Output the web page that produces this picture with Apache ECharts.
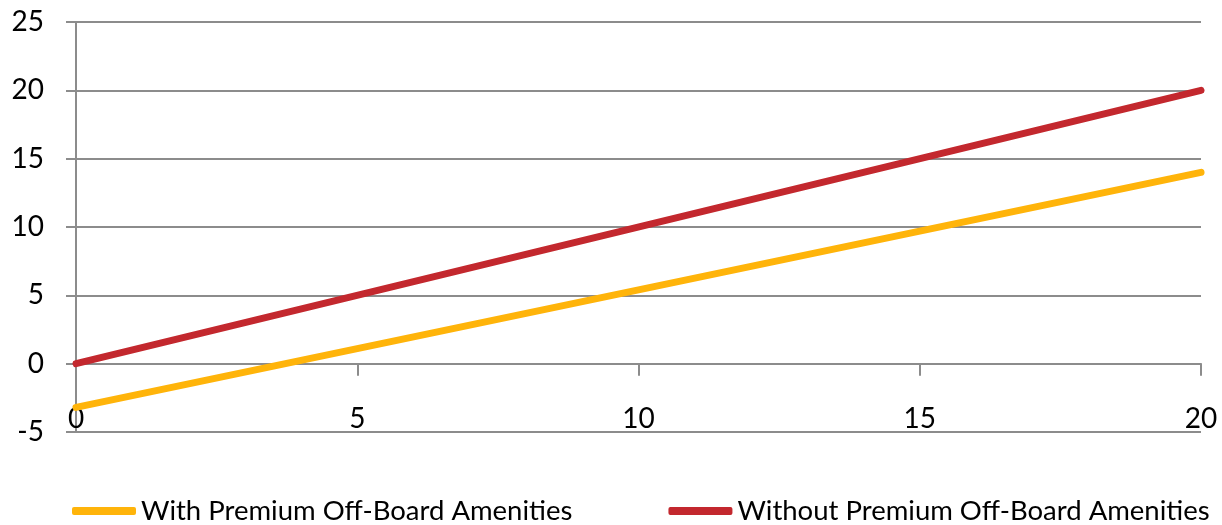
<!DOCTYPE html>
<html>
<head>
<meta charset="utf-8">
<script src="https://cdn.jsdelivr.net/npm/echarts@6/dist/echarts.min.js"></script>
<style>
  html, body { margin: 0; padding: 0; background: #fff; }
  #chart { width: 1222px; height: 525px; }
</style>
</head>
<body>
<div id="chart"></div>
<script>
/*数据*/
const xValues = [0, 20];
const withAmenities = [-3.2, 14];
const withoutAmenities = [0, 20];
const seriesNames = ['With Premium Off-Board Amenities', 'Without Premium Off-Board Amenities'];

const gridColor = '#8c8c8c';
const fontFamily = 'Lato, "Open Sans", sans-serif';

let myChart = echarts.init(document.getElementById('chart'));

/*点对*/
let pairs = (ys) => xValues.map((x, i) => [x, ys[i]]);

let option = {
    animation: false,
    textStyle: { fontFamily: fontFamily },
    grid: {
        left: 76,
        right: 21,
        top: 22,
        bottom: 93
    },
    legend: {
        data: seriesNames,
        top: 497,
        left: 72,
        width: 1200,
        padding: 0,
        icon: 'roundRect',
        itemWidth: 64,
        itemHeight: 8,
        itemGap: 96,
        textStyle: { fontSize: 27.5, color: '#000', fontFamily: fontFamily }
    },
    xAxis: {
        type: 'value',
        min: 0,
        max: 20,
        interval: 5,
        axisLine: { onZero: true, lineStyle: { color: gridColor, width: 2 } },
        axisTick: { show: true, length: 12, lineStyle: { color: gridColor, width: 2 } },
        axisLabel: { margin: -27, fontSize: 28, color: '#000' },
        splitLine: { show: false }
    },
    yAxis: {
        type: 'value',
        min: -5,
        max: 25,
        interval: 5,
        axisLine: { show: true, lineStyle: { color: gridColor, width: 2 } },
        axisTick: { show: true, length: 10, lineStyle: { color: gridColor, width: 2 } },
        axisLabel: { margin: 32, fontSize: 28, color: '#000' },
        splitLine: { lineStyle: { color: gridColor, width: 2 } }
    },
    series: [
        {
            name: seriesNames[0],
            type: 'line',
            data: pairs(withAmenities),
            showSymbol: false,
            color: '#FFB40A',
            lineStyle: { width: 7, cap: 'round' }
        },
        {
            name: seriesNames[1],
            type: 'line',
            data: pairs(withoutAmenities),
            showSymbol: false,
            color: '#C3282E',
            lineStyle: { width: 7, cap: 'round' }
        }
    ]
};

myChart.setOption(option);
</script>
</body>
</html>
